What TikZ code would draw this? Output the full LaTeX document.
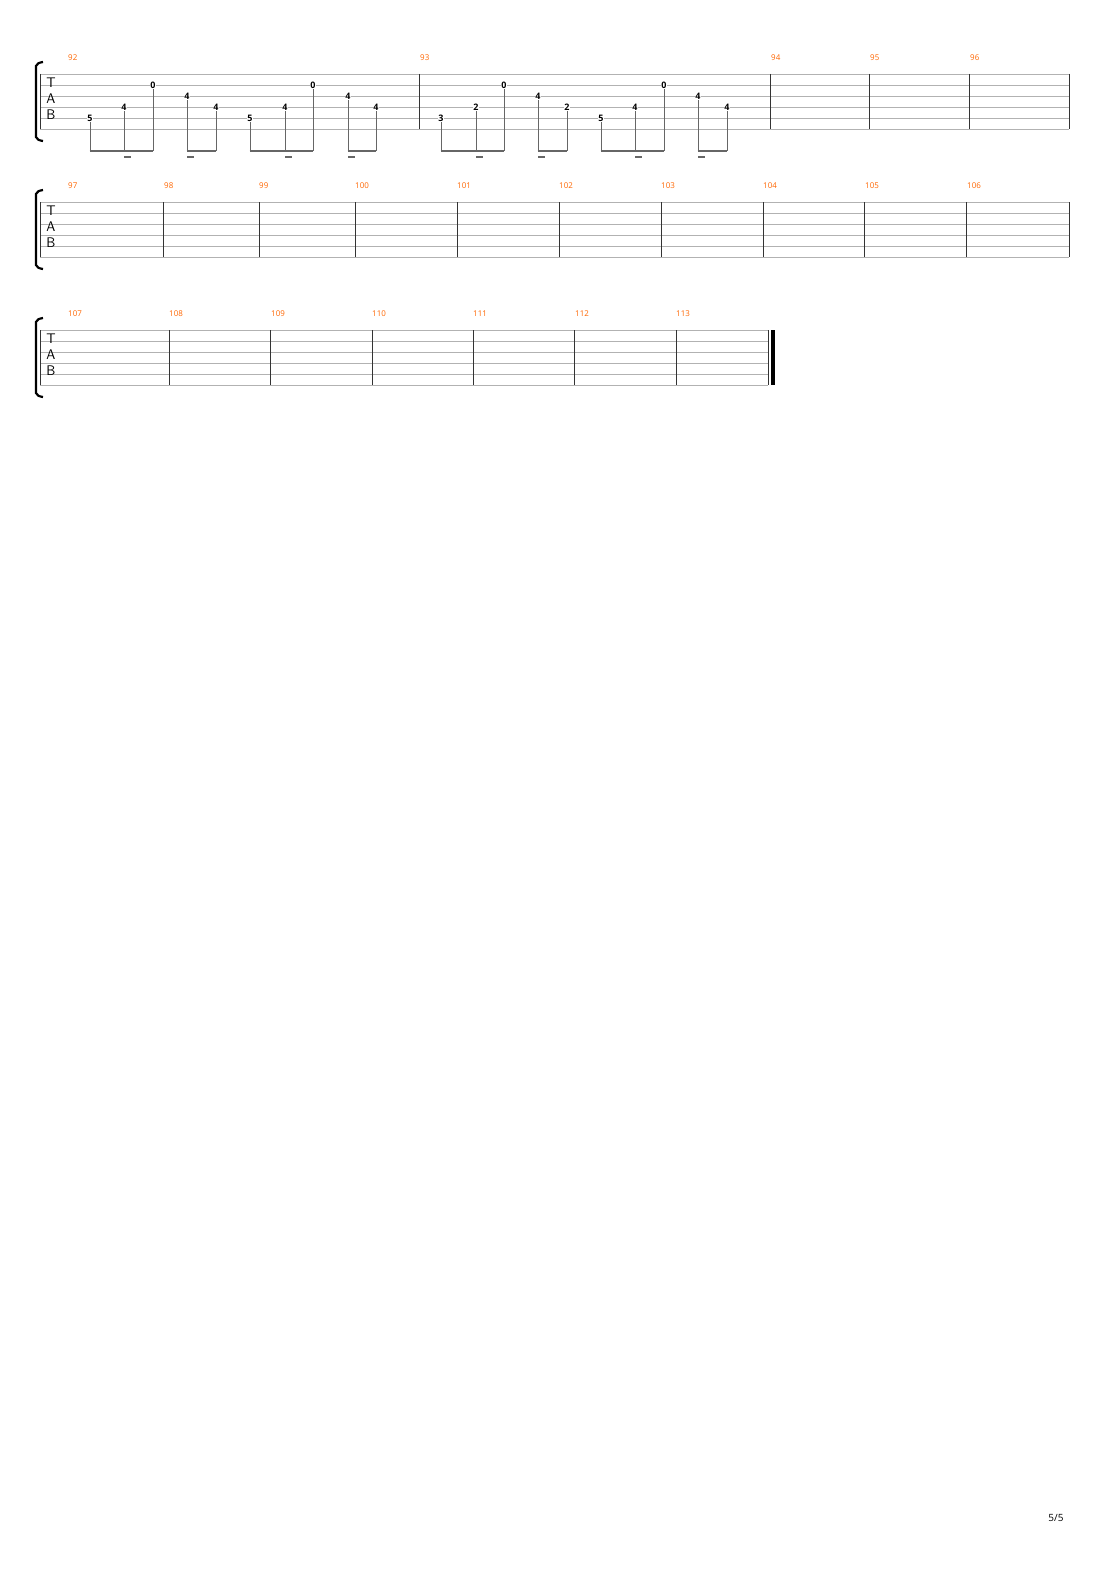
\documentclass[tikz,border=0pt]{standalone}
\usepackage{fontspec}
\setmainfont{Open Sans}
\begin{document}
\begin{tikzpicture}[x=1bp,y=-1bp,
  sline/.style={draw=black!30,line width=0.6bp},
  bar/.style={draw=black!80,line width=0.9bp},
  mnum/.style={text=orange!80!red,font=\fontsize{8}{8}\selectfont,anchor=west,inner sep=0},
  fret/.style={font=\bfseries\fontsize{9}{9}\selectfont,inner sep=0.8bp,fill=white},
  stemln/.style={draw=black!60,line width=0.8bp},
  beamln/.style={draw=black!60,line width=2.2bp},
  tabl/.style={font=\sffamily\fontsize{14}{14}\selectfont,inner sep=0}]
\useasboundingbox (0,0) rectangle (1110,1570);
\fill[white] (0,0) rectangle (1110,1570);
\foreach \y [count=\s] in {74,202,330}{
  \ifnum\s=3 \def\xe{768}\else\def\xe{1069}\fi
  \foreach \k in {0,...,5}{\draw[sline] (40,\y+11*\k) -- (\xe,\y+11*\k);}
  \draw[bar] (40,\y) -- (40,\y+55);
  \node[tabl] (t\s) at (51,\y+9) {T};
  \node[tabl] (a\s) at (51,\y+25) {A};
  \node[tabl] (b\s) at (51,\y+41) {B};
  \draw[line width=2.2bp] (43,\y-12) .. controls (38,\y-11) .. (36,\y-8) -- (36,\y+63) .. controls (38,\y+66) .. (43,\y+67);
}
% system 1
\foreach \x in {419,770,869,969,1069}{\draw[bar] (\x,74) -- (\x,129);}
\foreach \x/\t in {68/92,420/93,771/94,870/95,970/96}{\node[mnum] (m\t) at (\x,58) {\t};}
% system 2
\foreach \x in {163,259,355,457,559,661,763,864,966,1069}{\draw[bar] (\x,202) -- (\x,257);}
\foreach \x/\t in {68/97,164/98,259/99,355/100,457/101,559/102,661/103,763/104,865/105,967/106}{\node[mnum] (m\t) at (\x,186) {\t};}
% system 3
\foreach \x in {169,270,372,473,574,676,768}{\draw[bar] (\x,330) -- (\x,385);}
\draw[line width=3.5bp] (773,330) -- (773,385);
\foreach \x/\t in {68/107,169/108,271/109,372/110,473/111,575/112,676/113}{\node[mnum] (m\t) at (\x,314) {\t};}
% notes
\foreach \x/\y/\f [count=\i] in {90/118/5,124/107/4,153/85/0,187/96/4,216/107/4,250/118/5,285/107/4,313/85/0,348/96/4,376/107/4,
  441/118/3,476/107/2,504/85/0,538/96/4,567/107/2,601/118/5,635/107/4,664/85/0,698/96/4,727/107/4}{
  \node[fret] (n\i) at (\x,\y) {\f};
  \coordinate (e\i) at (\x,151);
  \draw[stemln] (n\i.south) -- (e\i);
}
\foreach \a/\b in {1/3,4/5,6/8,9/10,11/13,14/15,16/18,19/20}{\draw[beamln] ([xshift=-0.4bp]e\a) -- ([xshift=0.4bp]e\b);}
\foreach \i in {2,4,7,9,12,14,17,19}{\draw[draw=black!60,line width=1.5bp] ([yshift=-6bp]e\i) -- ++(7,0);}
\node[font=\fontsize{10}{10}\selectfont,inner sep=0] (pg) at (1056,1518) {5/5};
\end{tikzpicture}
\end{document}
